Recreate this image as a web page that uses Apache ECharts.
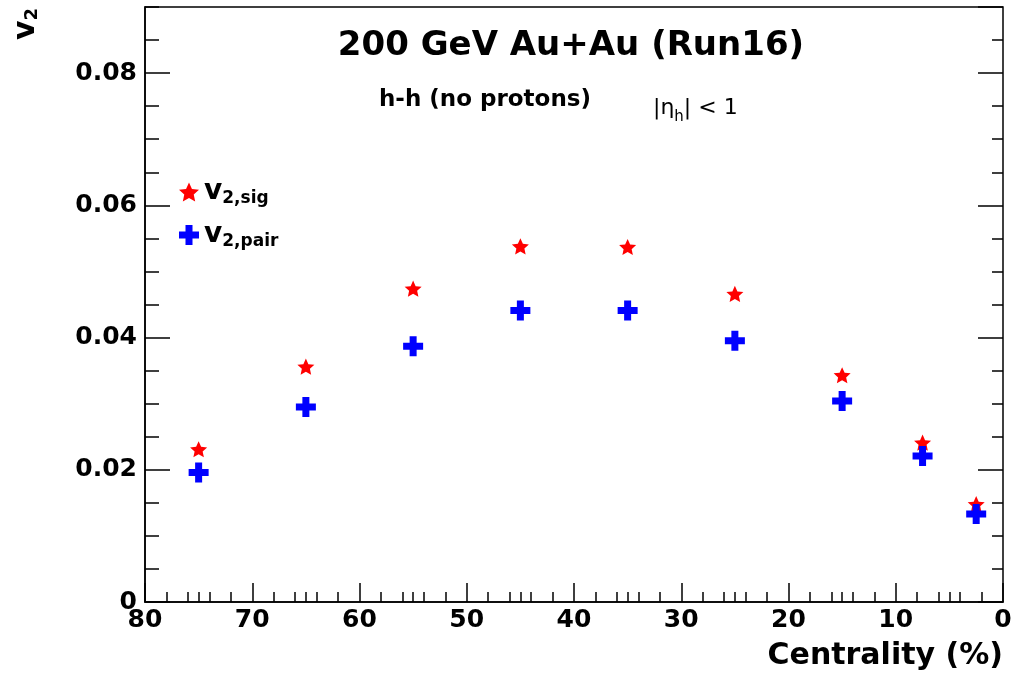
<!DOCTYPE html>
<html>
<head>
<meta charset="utf-8">
<script src="https://cdn.jsdelivr.net/npm/echarts@6/dist/echarts.min.js"></script>
<style>html,body{margin:0;padding:0;background:#fff}#c{width:1019px;height:688px}</style>
</head>
<body>
<div id="c"></div>
<script>
// ---- data ----
const centrality = [75, 65, 55, 45, 35, 25, 15, 7.5, 2.5];
const v2sig  = [0.0231, 0.0356, 0.0474, 0.0538, 0.0537, 0.0466, 0.0343, 0.0241, 0.0148];
const v2pair = [0.0196, 0.0295, 0.0387, 0.0441, 0.0441, 0.0395, 0.0304, 0.0221, 0.0133];
const xRange = [0, 80];
const yRange = [0, 0.09];
const yMajor = 0.02;
const titleText = '200 GeV Au+Au (Run16)';
const subText = 'h-h (no protons)';
const xTitle = 'Centrality (%)';

const FONT = '"DejaVu Sans", "Liberation Sans", sans-serif';
const STAR = 'path://M10,0 L12.8,6.3 L19.51,6.91 L14.5,11.5 L15.88,18.09 L10,14.7 L4.12,18.09 L5.5,11.5 L0.49,6.91 L7.2,6.3 Z';
const CROSS = 'path://M6.5,0 H13.5 V6.5 H20 V13.5 H13.5 V20 H6.5 V13.5 H0 V6.5 H6.5 Z';

const chart = echarts.init(document.getElementById('c'), null, {renderer: 'canvas'});

function pts(ys) { return centrality.map((x, i) => [x, ys[i]]); }

const tickStyle = {color: '#000', width: 1.5};
const baseX = {type: 'value', min: xRange[0], max: xRange[1], inverse: true, position: 'bottom', offset: 0, splitLine: {show: false}};
const baseY = {type: 'value', min: yRange[0], max: yRange[1], offset: 0, splitLine: {show: false}};

const option = {
  backgroundColor: '#fff',
  animation: false,
  grid: {left: 145, right: 16, top: 7, bottom: 86, show: true, borderColor: '#000', borderWidth: 1.5, backgroundColor: 'transparent'},
  xAxis: [
    Object.assign({}, baseX, {
      interval: 10,
      axisLine: {show: true, onZero: false, lineStyle: tickStyle},
      axisTick: {show: true, inside: true, length: 19, lineStyle: tickStyle},
      minorTick: {show: true, splitNumber: 5, length: 10, lineStyle: tickStyle},
      axisLabel: {show: true, margin: 6, color: '#000', fontFamily: FONT, fontWeight: 'bold', fontSize: 25}
    }),
    Object.assign({}, baseX, {
      interval: 5,
      axisLine: {show: false, onZero: false},
      axisTick: {show: true, inside: true, length: 10, lineStyle: tickStyle},
      axisLabel: {show: false}
    })
  ],
  yAxis: [
    Object.assign({}, baseY, {
      position: 'left', interval: yMajor,
      axisLine: {show: true, onZero: false, lineStyle: tickStyle},
      axisTick: {show: true, inside: true, length: 25, lineStyle: tickStyle},
      axisLabel: {
        show: true, margin: 8, color: '#000', fontFamily: FONT, fontWeight: 'bold', fontSize: 25,
        showMaxLabel: false,
        formatter: v => {
          const r = v / yMajor;
          if (Math.abs(r - Math.round(r)) > 1e-6) return '';
          return v === 0 ? '0' : v.toFixed(2);
        }
      }
    }),
    Object.assign({}, baseY, {
      position: 'left', interval: 0.005,
      axisLine: {show: false, onZero: false},
      axisTick: {show: true, inside: true, length: 14, lineStyle: tickStyle},
      axisLabel: {show: false}
    }),
    Object.assign({}, baseY, {
      position: 'right', interval: yMajor,
      axisLine: {show: false, onZero: false},
      axisTick: {show: true, inside: true, length: 25, lineStyle: tickStyle},
      axisLabel: {show: false}
    }),
    Object.assign({}, baseY, {
      position: 'right', interval: 0.005,
      axisLine: {show: false, onZero: false},
      axisTick: {show: true, inside: true, length: 11, lineStyle: tickStyle},
      axisLabel: {show: false}
    })
  ],
  legend: {
    orient: 'vertical', left: 179, top: 178, padding: 0,
    itemWidth: 20, itemHeight: 20, itemGap: 14,
    data: ['v2,sig', 'v2,pair'],
    formatter: n => n === 'v2,sig' ? '{v|v}{s|2,sig}' : '{v|v}{s|2,pair}',
    textStyle: {
      color: '#000', fontFamily: FONT, fontWeight: 'bold',
      rich: {
        v: {fontSize: 28, fontWeight: 'bold', fontFamily: FONT, lineHeight: 30, color: '#000'},
        s: {fontSize: 17, fontWeight: 'bold', fontFamily: FONT, lineHeight: 8, verticalAlign: 'bottom', color: '#000'}
      }
    }
  },
  series: [
    {name: 'v2,sig', type: 'scatter', data: pts(v2sig), symbol: STAR, symbolSize: 17, symbolKeepAspect: true,
     itemStyle: {color: '#ff0000', opacity: 1}, xAxisIndex: 0, yAxisIndex: 0, z: 3},
    {name: 'v2,pair', type: 'scatter', data: pts(v2pair), symbol: CROSS, symbolSize: 20,
     itemStyle: {color: '#0000ff', opacity: 1}, xAxisIndex: 0, yAxisIndex: 0, z: 4}
  ],
  graphic: [
    {type: 'text', x: 571, y: 46, style: {text: titleText, font: 'bold 34px ' + FONT, fill: '#000', align: 'center', verticalAlign: 'middle'}},
    {type: 'text', x: 379, y: 100, style: {text: subText, font: 'bold 23px ' + FONT, fill: '#000', align: 'left', verticalAlign: 'middle'}},
    {type: 'text', x: 653, y: 108, style: {
      text: '{n||\u03b7}{s|h}{n|| < 1}', fill: '#000', align: 'left', verticalAlign: 'middle',
      rich: {
        n: {fontSize: 22, fontFamily: FONT, lineHeight: 34, verticalAlign: 'middle', fill: '#000'},
        s: {fontSize: 15, fontFamily: FONT, lineHeight: 4, verticalAlign: 'bottom', fill: '#000'}
      }
    }},
    {type: 'text', x: 1003, y: 656, style: {text: xTitle, font: 'bold 30px ' + FONT, fill: '#000', align: 'right', verticalAlign: 'middle'}},
    {type: 'text', x: 26, y: 24, rotation: Math.PI / 2, style: {
      text: '{v|v}{s|2}', fill: '#000', align: 'center', verticalAlign: 'middle',
      rich: {
        v: {fontSize: 30, fontWeight: 'bold', fontFamily: FONT, lineHeight: 30, fill: '#000'},
        s: {fontSize: 18, fontWeight: 'bold', fontFamily: FONT, lineHeight: 10, verticalAlign: 'bottom', fill: '#000'}
      }
    }}
  ]
};
chart.setOption(option);
</script>
</body>
</html>
